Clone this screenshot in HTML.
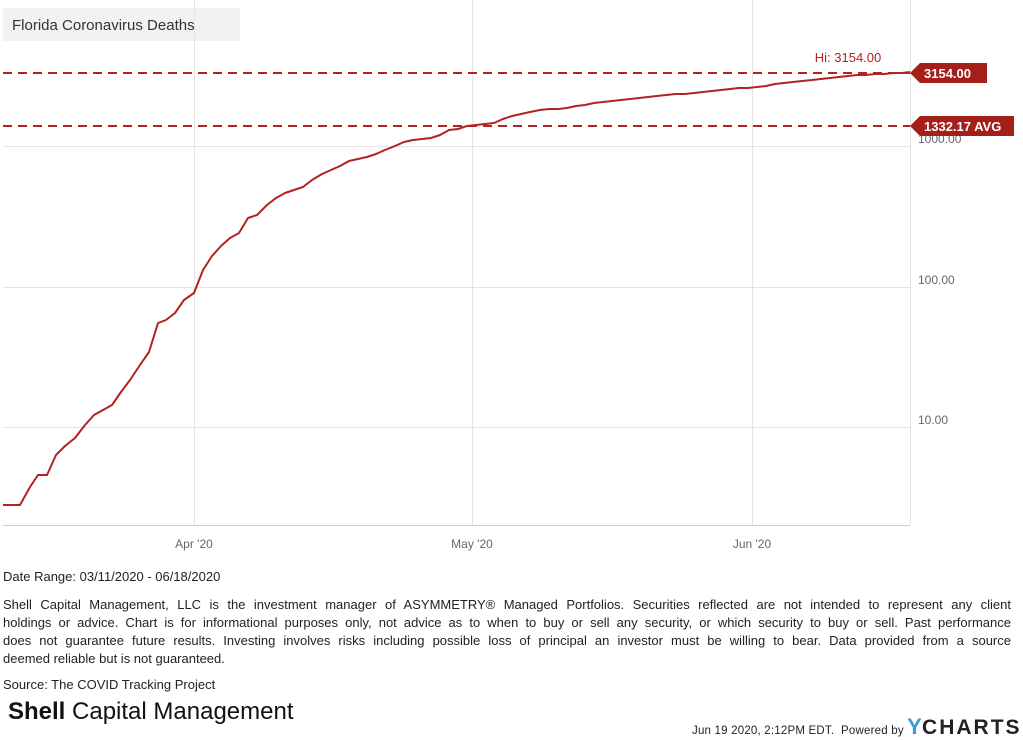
<!DOCTYPE html>
<html><head><meta charset="utf-8"><style>
body{margin:0;width:1023px;height:739px;background:#fff;font-family:"Liberation Sans",sans-serif;position:relative;overflow:hidden;color:#222}
.t{position:absolute;font-size:13px;left:3px;white-space:nowrap}
.j{display:block;width:1008px;text-align:justify;text-align-last:justify;white-space:normal}
</style></head><body>
<svg width="1023" height="560" style="position:absolute;left:0;top:0">
<rect x="3" y="8" width="237" height="33" fill="#f2f2f2"/>
<text x="12" y="30" font-size="15" fill="#333" font-family="Liberation Sans">Florida Coronavirus Deaths</text>
<g stroke="#e4e4e4" stroke-width="1">
<line x1="3" y1="146.5" x2="910" y2="146.5"/><line x1="3" y1="287.5" x2="910" y2="287.5"/><line x1="3" y1="427.5" x2="910" y2="427.5"/>
<line x1="194.5" y1="0" x2="194.5" y2="525"/><line x1="472.5" y1="0" x2="472.5" y2="525"/><line x1="752.5" y1="0" x2="752.5" y2="525"/>
<line x1="910.5" y1="0" x2="910.5" y2="525"/>
</g>
<line x1="3" y1="525.5" x2="910" y2="525.5" stroke="#ccc"/>
<g font-size="12" fill="#666" font-family="Liberation Sans">
<text x="918" y="143">1000.00</text><text x="918" y="284">100.00</text><text x="918" y="424">10.00</text>
<text x="194" y="548" text-anchor="middle">Apr '20</text><text x="472" y="548" text-anchor="middle">May '20</text><text x="752" y="548" text-anchor="middle">Jun '20</text>
</g>
<g stroke="#b22222" stroke-width="2" stroke-dasharray="9,6">
<line x1="3" y1="73" x2="910" y2="73"/><line x1="3" y1="126" x2="910" y2="126"/>
</g>
<polyline fill="none" stroke="#b22222" stroke-width="2" stroke-linejoin="round" points="3,505 20,505 30,487 38,475 47,475 56,455 65,446 75,438 85,425 94,415 103,410 112,405 121,392 130,380 140,365 149,352 158,323 166,320 175,313 184,300 194,293 203,270 212,256 221,246 230,238 239,233 248,218 257,215 267,205 276,198 285,193 294,190 303,187 312,180 322,174 331,170 340,166 349,161 358,159 367,157 376,154 385,150 395,146 404,142 413,140 422,139 431,138 440,135 449,130 458,129 467,126 476,125 485,124 494,123 503,119 512,116 521,114 530,112 540,110 549,109 558,109 567,108 576,106 585,105 594,103 603,102 612,101 621,100 630,99 639,98 648,97 657,96 666,95 676,94 685,94 694,93 703,92 712,91 721,90 730,89 739,88 748,88 757,87 766,86 775,84 784,83 793,82 802,81 812,80 821,79 830,78 839,77 848,76 857,75 866,75 875,74 884,74 893,73 902,73 910,72"/>
<text x="848" y="62" font-size="13" fill="#b22222" text-anchor="middle" font-family="Liberation Sans">Hi: 3154.00</text>
<polygon points="910,73 920,63 987,63 987,83 920,83" fill="#a51f1a"/>
<text x="924" y="78" font-size="13" font-weight="bold" fill="#fff" font-family="Liberation Sans">3154.00</text>
<polygon points="910,126 920,116 1014,116 1014,136 920,136" fill="#a51f1a"/>
<text x="924" y="131" font-size="13" font-weight="bold" fill="#fff" font-family="Liberation Sans">1332.17 AVG</text>
</svg>
<div class="t" style="top:569px">Date Range: 03/11/2020 - 06/18/2020</div>
<div class="t" style="top:596px;line-height:18px">
<span class="j">Shell Capital Management, LLC is the investment manager of ASYMMETRY® Managed Portfolios. Securities reflected are not intended to represent any client</span>
<span class="j">holdings or advice. Chart is for informational purposes only, not advice as to when to buy or sell any security, or which security to buy or sell. Past performance</span>
<span class="j">does not guarantee future results. Investing involves risks including possible loss of principal an investor must be willing to bear. Data provided from a source</span>
<span style="display:block">deemed reliable but is not guaranteed.</span>
</div>
<div class="t" style="top:677px">Source: The COVID Tracking Project</div>
<div style="position:absolute;left:8px;top:698px;font-size:24px;color:#111"><b>Shell</b> Capital Management</div>
<div style="position:absolute;left:692px;top:714px;font-size:11.5px;color:#222;white-space:nowrap;letter-spacing:0.2px">Jun 19 2020, 2:12PM EDT.&nbsp; Powered by <span style="font-size:22px;font-weight:bold;color:#3a9ad9">Y</span><span style="font-size:21px;font-weight:bold;color:#222;letter-spacing:2px">CHARTS</span></div>
</body></html>
